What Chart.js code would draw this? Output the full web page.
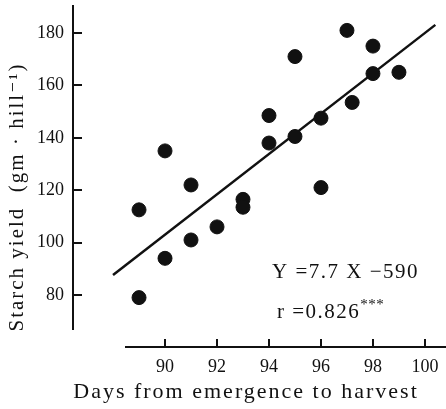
<!DOCTYPE html>
<html>
<head>
<meta charset="utf-8">
<script src="https://cdn.jsdelivr.net/npm/chart.js@4"></script>
<style>
  html, body { margin: 0; padding: 0; background: #fff; }
  #wrap { width: 446px; height: 409px; }
</style>
</head>
<body>
<div id="wrap"><canvas id="chart" width="446" height="409"></canvas></div>
<script>
// Days from emergence to harvest vs starch yield
const days   = [89, 89, 90, 90, 91, 91, 92, 93, 93, 94, 94, 95, 95, 96, 96, 97, 97.2, 98, 98, 99];
const starch = [112.5, 79, 135, 94, 122, 101, 106, 116.5, 113.5, 148.5, 138, 171, 140.5, 147.5, 121, 181, 153.5, 175, 164.5, 165];

// Regression line end points
const fitX = [88, 100.4];
const fitY = [87.6, 183.1];

const xTicks = [90, 92, 94, 96, 98, 100];
const yTicks = [80, 100, 120, 140, 160, 180];

const serif = '"Liberation Serif", "DejaVu Serif", serif';

// Draw the detached axes, inward ticks, titles and the equation
const axesPlugin = {
  id: 'axesPlugin',
  afterDraw(chart) {
    const ctx = chart.ctx;
    const xs = chart.scales.x;
    const ys = chart.scales.y;
    ctx.save();
    ctx.lineWidth = 2;
    ctx.strokeStyle = '#111';

    // y axis with ticks pointing inward
    const ax = 73;
    ctx.beginPath();
    ctx.moveTo(ax, 5);
    ctx.lineTo(ax, 330);
    ctx.stroke();
    yTicks.forEach(v => {
      const py = Math.round(ys.getPixelForValue(v));
      ctx.beginPath();
      ctx.moveTo(ax, py);
      ctx.lineTo(ax + 9, py);
      ctx.stroke();
    });

    // x axis, detached from the y axis
    const ay = 347;
    ctx.beginPath();
    ctx.moveTo(125, ay);
    ctx.lineTo(446, ay);
    ctx.stroke();
    xTicks.forEach(v => {
      const px = Math.round(xs.getPixelForValue(v));
      ctx.beginPath();
      ctx.moveTo(px, ay);
      ctx.lineTo(px, ay - 8);
      ctx.stroke();
    });

    ctx.fillStyle = '#111';
    ctx.textBaseline = 'middle';

    // axis titles
    ctx.font = '21px ' + serif;
    ctx.textAlign = 'center';
    ctx.letterSpacing = '2px';
    ctx.save();
    ctx.translate(17, 197);
    ctx.rotate(-Math.PI / 2);
    ctx.fillText('Starch yield  (gm · hill⁻¹)', 0, 0);
    ctx.restore();

    ctx.font = '22px ' + serif;
    ctx.fillText('Days from emergence to harvest', 246, 392);

    // equation and r
    ctx.textAlign = 'left';
    ctx.font = '21px ' + serif;
    ctx.letterSpacing = '1.5px';
    ctx.fillText('Y =7.7 X −590', 272, 272);
    ctx.fillText('r =0.826', 277, 312);
    const w = ctx.measureText('r =0.826').width;
    ctx.font = '15px ' + serif;
    ctx.letterSpacing = '0.5px';
    ctx.fillText('***', 277 + w, 305);
    ctx.restore();
  }
};

new Chart(document.getElementById('chart'), {
  type: 'scatter',
  data: {
    datasets: [
      {
        label: 'Regression',
        type: 'line',
        data: fitX.map((x, i) => ({ x: x, y: fitY[i] })),
        borderColor: '#111',
        borderWidth: 2.5,
        pointRadius: 0,
        fill: false,
        order: 2
      },
      {
        label: 'Starch yield',
        data: days.map((d, i) => ({ x: d, y: starch[i] })),
        backgroundColor: '#111',
        borderColor: '#111',
        pointRadius: 7,
        pointHoverRadius: 7,
        order: 1
      }
    ]
  },
  options: {
    responsive: false,
    animation: false,
    layout: { autoPadding: false, padding: { top: 5, right: 0, left: 0, bottom: 0 } },
    plugins: {
      legend: { display: false },
      tooltip: { enabled: false }
    },
    scales: {
      x: {
        type: 'linear',
        min: 86.46,
        max: 100.81,
        grid: { display: false, drawTicks: false },
        border: { display: false },
        afterBuildTicks: s => { s.ticks = xTicks.map(v => ({ value: v })); },
        afterFit: s => { s.height = 62; s.paddingLeft = 0; s.paddingRight = 0; },
        ticks: {
          padding: 9,
          color: '#111',
          font: { family: serif, size: 18 }
        }
      },
      y: {
        type: 'linear',
        min: 60.15,
        max: 190.69,
        grid: { display: false, drawTicks: false },
        border: { display: false },
        afterBuildTicks: s => { s.ticks = yTicks.map(v => ({ value: v })); },
        afterFit: s => { s.width = 73; s.paddingTop = 0; s.paddingBottom = 0; },
        ticks: {
          padding: 9,
          color: '#111',
          font: { family: serif, size: 18 }
        }
      }
    }
  },
  plugins: [axesPlugin]
});
</script>
</body>
</html>
